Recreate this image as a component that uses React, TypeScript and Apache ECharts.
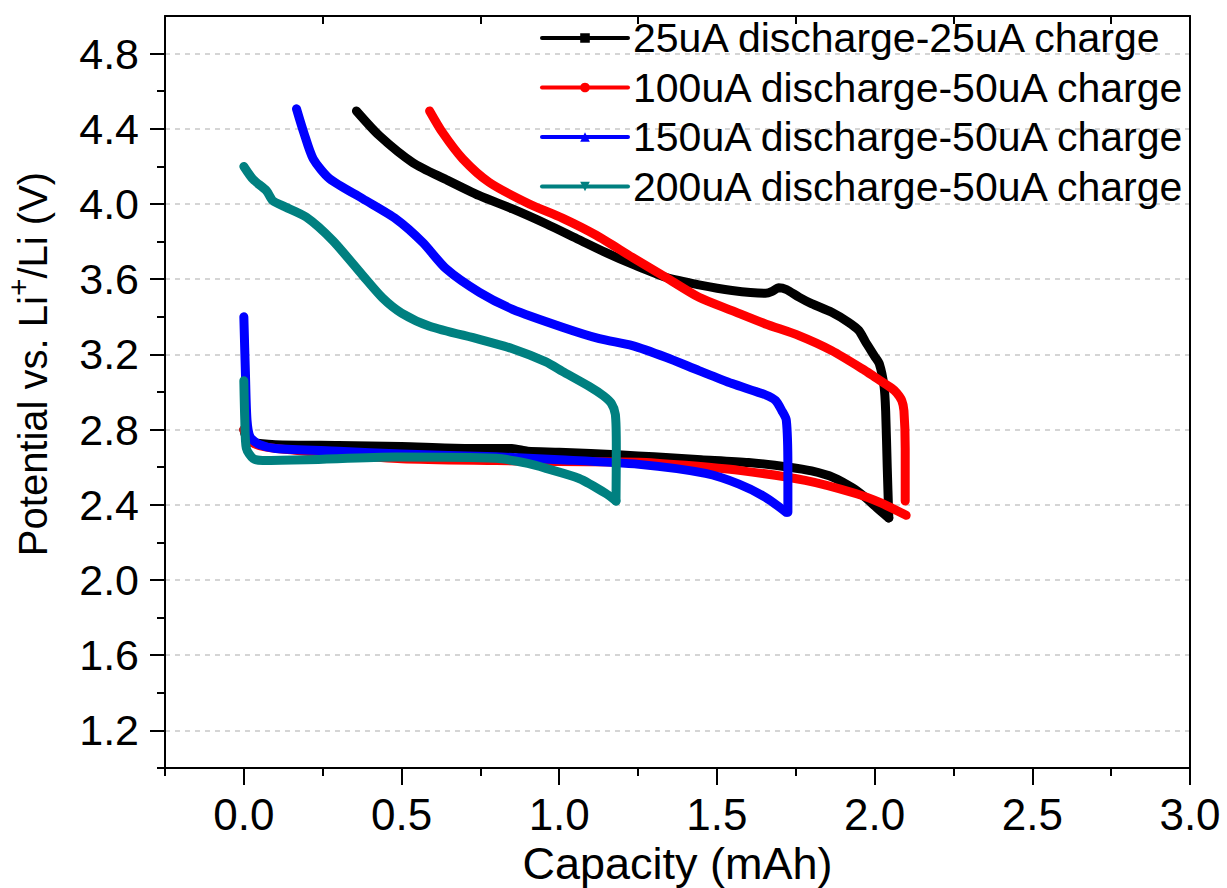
import React, { useEffect, useRef } from "react";
import * as echarts from "echarts";

const FONT = "'Liberation Sans', Arial, sans-serif";

const xMajor = [0, 0.5, 1.0, 1.5, 2.0, 2.5, 3.0];
const xMinor = [-0.25, 0.25, 0.75, 1.25, 1.75, 2.25, 2.75];
const xTopTicks = [0.25, 0.75, 1.25, 1.75, 2.25, 2.75];
const yMajor = [1.2, 1.6, 2.0, 2.4, 2.8, 3.2, 3.6, 4.0, 4.4, 4.8];
const yMinor = [1.0, 1.4, 1.8, 2.2, 2.6, 3.0, 3.4, 3.8, 4.2, 4.6];

const seriesNames = [
  "25uA discharge-25uA charge",
  "100uA discharge-50uA charge",
  "150uA discharge-50uA charge",
  "200uA discharge-50uA charge",
];
const seriesColors = ["#000000", "#ff0000", "#0000ff", "#008080"];
const seriesSymbols = ["rect", "circle", "triangle", "triangle"];
const seriesRotate = [0, 0, 0, 180];

const blackDischarge = [
  [0, 2.8], [0.01, 2.75], [0.03, 2.73], [0.1, 2.72], [0.3, 2.715], [0.5, 2.71],
  [0.7, 2.7], [0.85, 2.7], [0.9, 2.685], [1.0, 2.68], [1.2, 2.665], [1.3, 2.655],
  [1.45, 2.64], [1.6, 2.625], [1.73, 2.6], [1.8, 2.58], [1.87, 2.545], [1.93, 2.49],
  [1.97, 2.44], [2.01, 2.38], [2.045, 2.33],
];
const blackCharge = [
  [2.045, 2.33], [2.04, 2.6], [2.035, 2.9], [2.03, 3.03], [2.015, 3.15], [2.0, 3.19],
  [1.97, 3.27], [1.95, 3.327], [1.918, 3.37], [1.864, 3.424], [1.8, 3.47], [1.76, 3.505],
  [1.72, 3.545], [1.696, 3.555], [1.675, 3.535], [1.654, 3.525], [1.548, 3.54],
  [1.443, 3.57], [1.338, 3.61], [1.232, 3.68], [1.15, 3.74], [1.063, 3.81],
  [0.958, 3.895], [0.852, 3.974], [0.747, 4.044], [0.641, 4.13], [0.536, 4.22],
  [0.43, 4.363], [0.357, 4.495],
];
const redDischarge = [
  [0, 2.8], [0.01, 2.76], [0.04, 2.72], [0.1, 2.7], [0.3, 2.67], [0.5, 2.645],
  [0.8, 2.635], [1.0, 2.63], [1.253, 2.627], [1.4, 2.61], [1.57, 2.583], [1.78, 2.53],
  [1.94, 2.46], [2.02, 2.41], [2.1, 2.344],
];
const redCharge = [
  [2.097, 2.42], [2.097, 2.7], [2.093, 2.9], [2.086, 2.955], [2.07, 2.995], [2.054, 3.02],
  [2.0, 3.08], [1.97, 3.114], [1.864, 3.22], [1.76, 3.3], [1.654, 3.362], [1.548, 3.433],
  [1.443, 3.504], [1.338, 3.61], [1.232, 3.716], [1.116, 3.835], [1.01, 3.925],
  [0.905, 4.0], [0.778, 4.115], [0.694, 4.24], [0.63, 4.38], [0.589, 4.495],
];
const blueDischarge = [
  [0, 3.4], [0.005, 3.1], [0.01, 2.85], [0.02, 2.76], [0.05, 2.72], [0.1, 2.7],
  [0.3, 2.685], [0.5, 2.67], [0.8, 2.655], [1.0, 2.64], [1.253, 2.615], [1.464, 2.567],
  [1.57, 2.51], [1.654, 2.44], [1.72, 2.36],
];
const blueCharge = [
  [1.725, 2.36], [1.725, 2.6], [1.72, 2.85], [1.706, 2.9], [1.686, 2.955], [1.654, 2.985],
  [1.548, 3.045], [1.443, 3.114], [1.338, 3.185], [1.232, 3.247], [1.127, 3.284],
  [1.01, 3.345], [0.852, 3.44], [0.747, 3.53], [0.641, 3.656], [0.567, 3.796],
  [0.483, 3.92], [0.377, 4.028], [0.272, 4.134], [0.22, 4.24], [0.19, 4.38], [0.167, 4.506],
];
const tealDischarge = [
  [0, 3.06], [0.003, 2.85], [0.008, 2.7], [0.03, 2.645], [0.06, 2.636], [0.2, 2.64],
  [0.483, 2.654], [0.8, 2.647], [0.9, 2.62], [0.958, 2.594], [1.063, 2.54], [1.148, 2.46],
  [1.18, 2.42],
];
const tealCharge = [
  [1.18, 2.42], [1.181, 2.7], [1.178, 2.88], [1.165, 2.94], [1.14, 2.98], [1.095, 3.03],
  [1.01, 3.11], [0.958, 3.16], [0.852, 3.23], [0.747, 3.28], [0.589, 3.35], [0.5, 3.42],
  [0.44, 3.5], [0.377, 3.62], [0.282, 3.805], [0.198, 3.93], [0.124, 3.99], [0.092, 4.017],
  [0.072, 4.07], [0.03, 4.13], [0, 4.2],
];

const seriesData = [
  [blackDischarge, blackCharge],
  [redDischarge, redCharge],
  [blueDischarge, blueCharge],
  [tealDischarge, tealCharge],
];

const axisColor = "#000";
const fmt = (v: number) => v.toFixed(1);

export default function App() {
  const ref = useRef<HTMLDivElement>(null);
  useEffect(() => {
    if (!ref.current) return;
    const chart = echarts.init(ref.current, null, { renderer: "svg" });
    const series: any[] = [];
    seriesData.forEach((pair, i) => {
      pair.forEach((d) => {
        series.push({
          name: seriesNames[i],
          type: "line",
          data: d,
          xAxisIndex: 0,
          yAxisIndex: 0,
          symbol: seriesSymbols[i],
          symbolRotate: seriesRotate[i],
          showSymbol: false,
          smooth: 0.25,
          lineStyle: { color: seriesColors[i], width: 9, join: "round", cap: "round" },
          itemStyle: { color: seriesColors[i] },
          emphasis: { disabled: true },
        });
      });
    });
    const lineStyle = { color: axisColor, width: 2 };
    const xBase = { type: "value", min: -0.25, max: 3.0, splitLine: { show: false } };
    const yBase = { type: "value", min: 1.0, max: 5.0 };
    chart.setOption({
      animation: false,
      backgroundColor: "#fff",
      grid: { left: 165, right: 37, top: 16, bottom: 120, containLabel: false, outerBoundsMode: "none" },
      legend: {
        data: seriesNames,
        orient: "vertical",
        left: 535,
        top: 11,
        itemWidth: 86,
        itemHeight: 12,
        itemGap: 5.5,
        selectedMode: false,
        lineStyle: { width: 4 },
        textStyle: { fontSize: 41, fontFamily: FONT, color: "#000", lineHeight: 44 },
      },
      xAxis: [
        {
          ...xBase,
          position: "bottom",
          axisLine: { show: true, onZero: false, lineStyle },
          axisTick: { show: true, customValues: xMajor, length: 17, lineStyle },
          axisLabel: {
            customValues: xMajor,
            formatter: fmt,
            fontSize: 44,
            fontFamily: FONT,
            color: "#000",
            margin: 24,
          },
          name: "Capacity (mAh)",
          nameLocation: "middle",
          nameGap: 70,
          nameTextStyle: { fontSize: 45, fontFamily: FONT, color: "#000" },
        },
        {
          ...xBase,
          position: "bottom",
          axisLine: { show: false, onZero: false },
          axisTick: { show: true, customValues: xMinor, length: 8, lineStyle },
          axisLabel: { show: false },
        },
        {
          ...xBase,
          position: "top",
          axisLine: { show: true, onZero: false, lineStyle },
          axisTick: { show: true, inside: true, customValues: xTopTicks, length: 8, lineStyle },
          axisLabel: { show: false },
        },
      ],
      yAxis: [
        {
          ...yBase,
          position: "left",
          axisLine: { show: true, onZero: false, lineStyle },
          axisTick: { show: true, customValues: yMajor, length: 15, lineStyle },
          axisLabel: {
            customValues: yMajor,
            formatter: fmt,
            fontSize: 43,
            fontFamily: FONT,
            color: "#000",
            margin: 26,
          },
          splitLine: { show: true, lineStyle: { type: [5, 5], color: "#c8c8c8", width: 1.5 } },
          name: "Potential vs. Li{sup|+}/Li (V)",
          nameLocation: "middle",
          nameGap: 102,
          nameRotate: 90,
          nameTextStyle: {
            fontSize: 40,
            fontFamily: FONT,
            color: "#000",
            padding: [0, 0, 0, 56],
            rich: {
              sup: { fontSize: 30, fontFamily: FONT, color: "#000", padding: [0, 0, 30, 0] },
            },
          },
        },
        {
          ...yBase,
          position: "left",
          axisLine: { show: false, onZero: false },
          axisTick: { show: true, customValues: yMinor, length: 8, lineStyle },
          axisLabel: { show: false },
          splitLine: { show: false },
        },
        {
          ...yBase,
          position: "right",
          axisLine: { show: true, onZero: false, lineStyle },
          axisTick: { show: false },
          axisLabel: { show: false },
          splitLine: { show: false },
        },
      ],
      series,
    });
    return () => chart.dispose();
  }, []);
  return (
    <div
      ref={ref}
      style={{ position: "absolute", left: 0, top: 0, width: 1227, height: 888 }}
    />
  );
}
